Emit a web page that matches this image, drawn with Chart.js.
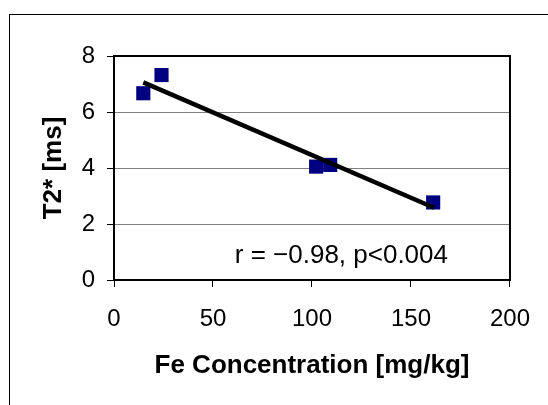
<!DOCTYPE html>
<html>
<head>
<meta charset="utf-8">
<script src="https://cdn.jsdelivr.net/npm/chart.js@4/dist/chart.umd.min.js"></script>
<style>
  html, body { margin: 0; padding: 0; background: #fff; }
  #wrap { width: 548px; height: 405px; }
</style>
</head>
<body>
<div id="wrap"><canvas id="chart" width="548" height="405"></canvas></div>
<script>
// Data
const feConc = [14.8, 24.0, 102.1, 109.2, 161.2];   // mg/kg
const t2star = [6.67, 7.32, 4.05, 4.11, 2.77];       // ms
// fitted line, end points as drawn
const fitX = [14.8, 161.7];
const fitY = [7.06, 2.58];

const xTicks = [0, 50, 100, 150, 200];
const yTicks = [0, 2, 4, 6, 8];

const xTitle = 'Fe Concentration [mg/kg]';
const yTitle = 'T2* [ms]';
const note = 'r = \u22120.98, p<0.004';
const notePos = { x: 61, y: 0.61 };

const FONT = '"Liberation Sans", Arial, sans-serif';

const points = feConc.map((x, i) => ({ x: x, y: t2star[i] }));
const fitLine = fitX.map((x, i) => ({ x: x, y: fitY[i] }));

// white page, outer frame and the box round the plot area
const framePlugin = {
  id: 'frame',
  beforeDraw(chart) {
    const ctx = chart.ctx;
    ctx.save();
    ctx.fillStyle = '#fff';
    ctx.fillRect(0, 0, chart.width, chart.height);
    ctx.strokeStyle = '#000';
    ctx.lineWidth = 1;
    ctx.strokeRect(9.5, 14.5, chart.width + 20, chart.height + 20);
    ctx.restore();
  },
  beforeDatasetsDraw(chart) {
    const a = chart.chartArea;
    const ctx = chart.ctx;
    ctx.save();
    ctx.strokeStyle = '#000';
    ctx.lineWidth = 2;
    ctx.strokeRect(a.left, a.top, a.right - a.left, a.bottom - a.top);
    ctx.restore();
  },
  afterDraw(chart) {
    const ctx = chart.ctx;
    const xs = chart.scales.x, ys = chart.scales.y;
    ctx.save();
    ctx.fillStyle = '#000';
    ctx.font = '26px ' + FONT;
    ctx.textBaseline = 'alphabetic';
    ctx.textAlign = 'left';
    ctx.fillText(note, xs.getPixelForValue(notePos.x), ys.getPixelForValue(notePos.y));
    ctx.restore();
  }
};

new Chart(document.getElementById('chart'), {
  type: 'scatter',
  data: {
    datasets: [
      {
        type: 'line',
        data: fitLine,
        borderColor: '#000',
        borderWidth: 4.5,
        pointRadius: 0,
        fill: false
      },
      {
        data: points,
        pointStyle: 'rect',
        pointRadius: 10,
        pointBackgroundColor: '#000080',
        pointBorderColor: '#000080',
        pointBorderWidth: 0
      }
    ]
  },
  options: {
    responsive: false,
    animation: false,
    devicePixelRatio: 1,
    layout: { padding: { top: 56, right: 35, left: 0, bottom: 0 } },
    plugins: {
      legend: { display: false },
      tooltip: { enabled: false }
    },
    scales: {
      x: {
        type: 'linear',
        min: 0, max: 200,
        afterFit: s => { s.height = 125; },
        afterBuildTicks: s => { s.ticks = xTicks.map(v => ({ value: v })); },
        border: { display: false },
        grid: { drawOnChartArea: false, drawTicks: true, tickLength: 7, tickColor: '#000', color: '#000' },
        ticks: { color: '#000', padding: 18, maxRotation: 0, font: { family: FONT, size: 24 } },
        title: {
          display: true, text: xTitle, color: '#000',
          font: { family: FONT, size: 26, weight: 'bold', lineHeight: 1.2 },
          padding: { top: 0, bottom: 24 }
        }
      },
      y: {
        type: 'linear',
        min: 0, max: 8,
        afterFit: s => { s.width = 114; },
        afterBuildTicks: s => { s.ticks = yTicks.map(v => ({ value: v })); },
        border: { display: false },
        grid: { color: '#808080', lineWidth: 1, drawTicks: true, tickLength: 7, tickColor: '#000' },
        ticks: { color: '#000', padding: 12, font: { family: FONT, size: 24 } },
        title: {
          display: true, text: yTitle, color: '#000',
          font: { family: FONT, size: 26, weight: 'bold', lineHeight: 1.2 },
          padding: { top: 38, bottom: 0 }
        }
      }
    }
  },
  plugins: [framePlugin]
});
</script>
</body>
</html>
